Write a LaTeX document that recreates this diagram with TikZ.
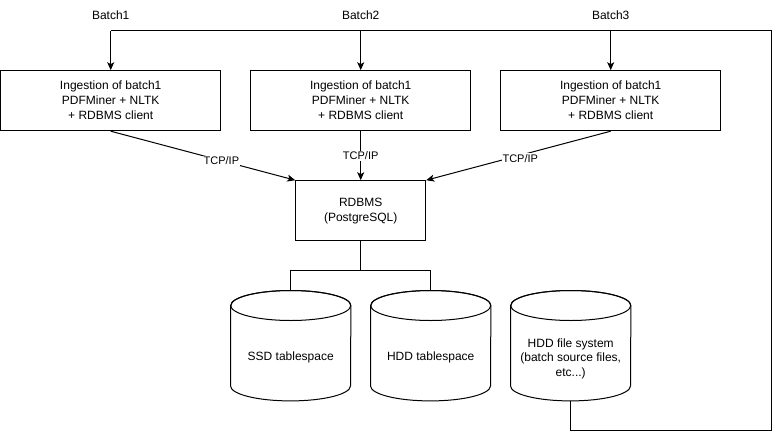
\documentclass[tikz,border=0pt]{standalone}
\usepackage{fontspec}
\setmainfont{Liberation Sans}
\usetikzlibrary{arrows.meta,calc}
\tikzset{
  box/.style={draw, line width=1pt, minimum width=220pt, minimum height=60pt, inner sep=0pt, align=center, font=\fontsize{12}{15}\selectfont},
  dbbox/.style={draw, line width=1pt, minimum width=130pt, minimum height=60pt, inner sep=0pt, align=center, font=\fontsize{12}{15}\selectfont},
  cylbox/.style={minimum width=120pt, minimum height=110pt, inner sep=0pt},
  cyltext/.style={align=center, font=\fontsize{12}{14.5}\selectfont},
  lbl/.style={font=\fontsize{12}{15}\selectfont},
  edgelbl/.style={fill=white, inner sep=1pt, font=\fontsize{11}{13}\selectfont},
  conn/.style={line width=1pt},
  arr/.style={line width=1pt, -{Stealth[length=8pt, width=7pt, inset=2pt]}},
}
\newcommand{\cylshape}[1]{%
  \draw[line width=1pt, fill=white] ($(#1.north west)+(0,15)$) -- ($(#1.south west)+(0,-15)$)
    arc[start angle=180, end angle=360, x radius=60pt, y radius=15pt]
    -- ($(#1.north east)+(0,15)$)
    arc[start angle=0, end angle=180, x radius=60pt, y radius=15pt] -- cycle;
  \draw[line width=1pt] ($(#1.north)+(0,15)$) ellipse[x radius=60pt, y radius=15pt];
}
\begin{document}
\begin{tikzpicture}[x=1pt, y=-1pt]
\useasboundingbox[fill=white] (0,0) rectangle (779,439);

\node[lbl] (l1) at (110.7,15) {Batch1};
\node[lbl] (l2) at (360.7,15) {Batch2};
\node[lbl] (l3) at (610.7,15) {Batch3};

\node[box] (b1) at (110.7,100.7) {Ingestion of batch1\\PDFMiner + NLTK\\+ RDBMS client};
\node[box] (b2) at (360.7,100.7) {Ingestion of batch1\\PDFMiner + NLTK\\+ RDBMS client};
\node[box] (b3) at (610.7,100.7) {Ingestion of batch1\\PDFMiner + NLTK\\+ RDBMS client};

\node[dbbox] (db) at (360.7,210.7) {RDBMS\\(PostgreSQL)};

\node[cylbox] (c1) at (290.7,345.7) {};
\node[cylbox] (c2) at (430.7,345.7) {};
\node[cylbox] (c3) at (570.7,345.7) {};
\cylshape{c1}
\cylshape{c2}
\cylshape{c3}
\node[cyltext] (t1) at (290.7,357.5) {SSD tablespace};
\node[cyltext] (t2) at (430.7,357.5) {HDD tablespace};
\node[cyltext] (t3) at (570.7,358.5) {HDD file system\\(batch source files,\\etc...)};

% feedback loop
\coordinate (rb) at (771,430.7);
\coordinate (rt) at (771,30.7);
\coordinate (lt) at (110.7,30.7);
\draw[conn] (c3.south) |- (rb) -- (rt) -- (lt);
\draw[arr] (lt) -- (b1.north);
\draw[arr] (b2.north |- lt) -- (b2.north);
\draw[arr] (b3.north |- lt) -- (b3.north);

% TCP/IP
\draw[arr] (b1.south) -- node[edgelbl, pos=0.6] {TCP/IP} (db.north west);
\draw[arr] (b2.south) -- node[edgelbl, pos=0.5] {TCP/IP} (db.north);
\draw[arr] (b3.south) -- node[edgelbl, pos=0.49, yshift=-3pt] {TCP/IP} (db.north east);

% to storage
\coordinate (br) at (360.7,270.7);
\draw[conn] (db.south) -- (br);
\draw[conn] (c1.north) |- (br) -| (c2.north);
\end{tikzpicture}
\end{document}
